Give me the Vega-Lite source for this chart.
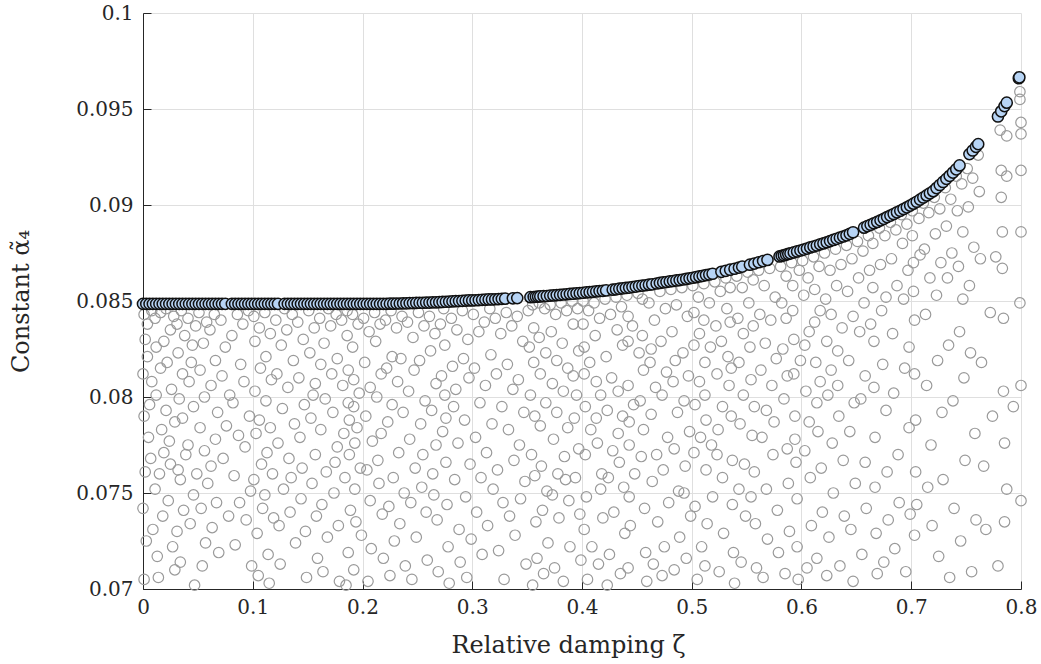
{
"$schema": "https://vega.github.io/schema/vega-lite/v6.json",
"width": 878, "height": 576,
"autosize": {"type": "none"},
"padding": {"left": 143, "top": 13, "right": 20, "bottom": 75},
"background": "white",
"config": {"view": {"stroke": null}, "font": "DejaVu Serif"},
"datasets": {
"samples": [
{"zeta":0.001,"alpha":0.0843},{"zeta":0,"alpha":0.0812},{"zeta":0.001,"alpha":0.079},{"zeta":0.002,"alpha":0.0761},{"zeta":0,"alpha":0.0742},{"zeta":0.001,"alpha":0.0705},{"zeta":0.004,"alpha":0.0838},{"zeta":0.004,"alpha":0.0821},{"zeta":0.005,"alpha":0.0779},{"zeta":0.003,"alpha":0.0725},{"zeta":0.008,"alpha":0.0845},{"zeta":0.008,"alpha":0.0808},{"zeta":0.007,"alpha":0.0768},{"zeta":0.009,"alpha":0.0731},{"zeta":0.006,"alpha":0.0796},{"zeta":0.002,"alpha":0.083},
{"zeta":0.011,"alpha":0.0841},{"zeta":0.012,"alpha":0.0826},{"zeta":0.012,"alpha":0.0801},{"zeta":0.011,"alpha":0.0752},{"zeta":0.013,"alpha":0.0717},{"zeta":0.016,"alpha":0.0844},{"zeta":0.016,"alpha":0.0815},{"zeta":0.017,"alpha":0.0783},{"zeta":0.015,"alpha":0.076},{"zeta":0.018,"alpha":0.0738},{"zeta":0.019,"alpha":0.0829},{"zeta":0.019,"alpha":0.0771},{"zeta":0.014,"alpha":0.0706},
{"zeta":0.021,"alpha":0.0846},{"zeta":0.022,"alpha":0.0818},{"zeta":0.021,"alpha":0.0793},{"zeta":0.023,"alpha":0.0746},{"zeta":0.025,"alpha":0.0835},{"zeta":0.026,"alpha":0.0804},{"zeta":0.025,"alpha":0.0765},{"zeta":0.027,"alpha":0.0722},{"zeta":0.028,"alpha":0.0842},{"zeta":0.029,"alpha":0.0787},{"zeta":0.024,"alpha":0.0777},{"zeta":0.029,"alpha":0.071},
{"zeta":0.031,"alpha":0.0838},{"zeta":0.032,"alpha":0.0823},{"zeta":0.033,"alpha":0.0799},{"zeta":0.032,"alpha":0.0762},{"zeta":0.034,"alpha":0.0757},{"zeta":0.031,"alpha":0.073},{"zeta":0.035,"alpha":0.0845},{"zeta":0.036,"alpha":0.0812},{"zeta":0.036,"alpha":0.0789},{"zeta":0.037,"alpha":0.0741},{"zeta":0.038,"alpha":0.0832},{"zeta":0.039,"alpha":0.077},{"zeta":0.034,"alpha":0.0714},
{"zeta":0.041,"alpha":0.0841},{"zeta":0.042,"alpha":0.0808},{"zeta":0.041,"alpha":0.0775},{"zeta":0.043,"alpha":0.0734},{"zeta":0.045,"alpha":0.0827},{"zeta":0.046,"alpha":0.0795},{"zeta":0.046,"alpha":0.0749},{"zeta":0.047,"alpha":0.0702},{"zeta":0.048,"alpha":0.0837},{"zeta":0.049,"alpha":0.076},{"zeta":0.044,"alpha":0.0818},
{"zeta":0.051,"alpha":0.0844},{"zeta":0.052,"alpha":0.0814},{"zeta":0.052,"alpha":0.0784},{"zeta":0.053,"alpha":0.0742},{"zeta":0.055,"alpha":0.0828},{"zeta":0.056,"alpha":0.08},{"zeta":0.056,"alpha":0.0772},{"zeta":0.057,"alpha":0.0724},{"zeta":0.058,"alpha":0.0839},{"zeta":0.059,"alpha":0.0755},{"zeta":0.054,"alpha":0.0712},
{"zeta":0.061,"alpha":0.0835},{"zeta":0.062,"alpha":0.0806},{"zeta":0.062,"alpha":0.0764},{"zeta":0.063,"alpha":0.0732},{"zeta":0.065,"alpha":0.0843},{"zeta":0.066,"alpha":0.0819},{"zeta":0.066,"alpha":0.0778},{"zeta":0.067,"alpha":0.0745},{"zeta":0.068,"alpha":0.0792},{"zeta":0.069,"alpha":0.0719},
{"zeta":0.071,"alpha":0.084},{"zeta":0.072,"alpha":0.0811},{"zeta":0.073,"alpha":0.0768},{"zeta":0.075,"alpha":0.0826},{"zeta":0.076,"alpha":0.0785},{"zeta":0.078,"alpha":0.0738},{"zeta":0.079,"alpha":0.0801},
{"zeta":0.081,"alpha":0.0832},{"zeta":0.082,"alpha":0.0797},{"zeta":0.083,"alpha":0.0759},{"zeta":0.084,"alpha":0.0723},{"zeta":0.086,"alpha":0.0843},{"zeta":0.087,"alpha":0.078},{"zeta":0.088,"alpha":0.0745},{"zeta":0.089,"alpha":0.0817},
{"zeta":0.091,"alpha":0.0838},{"zeta":0.092,"alpha":0.0808},{"zeta":0.093,"alpha":0.0774},{"zeta":0.094,"alpha":0.0736},{"zeta":0.096,"alpha":0.0845},{"zeta":0.097,"alpha":0.079},{"zeta":0.098,"alpha":0.0751},{"zeta":0.099,"alpha":0.0712},
{"zeta":0.101,"alpha":0.0842},{"zeta":0.102,"alpha":0.0829},{"zeta":0.102,"alpha":0.0803},{"zeta":0.103,"alpha":0.0781},{"zeta":0.101,"alpha":0.0757},{"zeta":0.104,"alpha":0.0729},{"zeta":0.106,"alpha":0.0836},{"zeta":0.107,"alpha":0.0815},{"zeta":0.106,"alpha":0.0788},{"zeta":0.108,"alpha":0.0765},{"zeta":0.109,"alpha":0.0742},{"zeta":0.105,"alpha":0.0707},
{"zeta":0.111,"alpha":0.0844},{"zeta":0.112,"alpha":0.0821},{"zeta":0.112,"alpha":0.0798},{"zeta":0.113,"alpha":0.0771},{"zeta":0.111,"alpha":0.0749},{"zeta":0.114,"alpha":0.0718},{"zeta":0.116,"alpha":0.0833},{"zeta":0.117,"alpha":0.0809},{"zeta":0.116,"alpha":0.0784},{"zeta":0.118,"alpha":0.076},{"zeta":0.119,"alpha":0.0737},{"zeta":0.115,"alpha":0.0703},
{"zeta":0.121,"alpha":0.084},{"zeta":0.122,"alpha":0.0812},{"zeta":0.123,"alpha":0.0776},{"zeta":0.124,"alpha":0.0733},{"zeta":0.126,"alpha":0.0827},{"zeta":0.127,"alpha":0.0794},{"zeta":0.128,"alpha":0.0752},{"zeta":0.129,"alpha":0.0846},{"zeta":0.125,"alpha":0.0713},
{"zeta":0.131,"alpha":0.0835},{"zeta":0.132,"alpha":0.0805},{"zeta":0.133,"alpha":0.0768},{"zeta":0.134,"alpha":0.074},{"zeta":0.136,"alpha":0.0843},{"zeta":0.137,"alpha":0.0819},{"zeta":0.138,"alpha":0.0786},{"zeta":0.139,"alpha":0.0724},{"zeta":0.135,"alpha":0.0758},
{"zeta":0.141,"alpha":0.0839},{"zeta":0.142,"alpha":0.081},{"zeta":0.143,"alpha":0.0779},{"zeta":0.144,"alpha":0.0747},{"zeta":0.146,"alpha":0.083},{"zeta":0.147,"alpha":0.0796},{"zeta":0.148,"alpha":0.073},{"zeta":0.149,"alpha":0.0706},{"zeta":0.145,"alpha":0.0763},
{"zeta":0.151,"alpha":0.0845},{"zeta":0.152,"alpha":0.0823},{"zeta":0.153,"alpha":0.0789},{"zeta":0.154,"alpha":0.0755},{"zeta":0.156,"alpha":0.0836},{"zeta":0.157,"alpha":0.0807},{"zeta":0.157,"alpha":0.077},{"zeta":0.158,"alpha":0.0738},{"zeta":0.159,"alpha":0.0716},{"zeta":0.155,"alpha":0.0801},
{"zeta":0.161,"alpha":0.0841},{"zeta":0.162,"alpha":0.0817},{"zeta":0.162,"alpha":0.0783},{"zeta":0.163,"alpha":0.0744},{"zeta":0.165,"alpha":0.0828},{"zeta":0.166,"alpha":0.0799},{"zeta":0.167,"alpha":0.0761},{"zeta":0.168,"alpha":0.0727},{"zeta":0.169,"alpha":0.0846},{"zeta":0.164,"alpha":0.0709},
{"zeta":0.171,"alpha":0.0837},{"zeta":0.172,"alpha":0.0812},{"zeta":0.173,"alpha":0.0792},{"zeta":0.174,"alpha":0.075},{"zeta":0.176,"alpha":0.0843},{"zeta":0.177,"alpha":0.082},{"zeta":0.177,"alpha":0.0774},{"zeta":0.178,"alpha":0.0733},{"zeta":0.179,"alpha":0.0704},{"zeta":0.175,"alpha":0.0766},
{"zeta":0.181,"alpha":0.084},{"zeta":0.182,"alpha":0.0806},{"zeta":0.183,"alpha":0.0781},{"zeta":0.184,"alpha":0.0758},{"zeta":0.186,"alpha":0.0845},{"zeta":0.186,"alpha":0.0832},{"zeta":0.187,"alpha":0.0814},{"zeta":0.187,"alpha":0.0797},{"zeta":0.188,"alpha":0.0788},{"zeta":0.188,"alpha":0.077},{"zeta":0.189,"alpha":0.0741},{"zeta":0.187,"alpha":0.0719},{"zeta":0.185,"alpha":0.0702},
{"zeta":0.191,"alpha":0.0843},{"zeta":0.191,"alpha":0.0826},{"zeta":0.192,"alpha":0.0809},{"zeta":0.192,"alpha":0.0795},{"zeta":0.193,"alpha":0.0776},{"zeta":0.193,"alpha":0.0752},{"zeta":0.194,"alpha":0.0735},{"zeta":0.192,"alpha":0.071},{"zeta":0.196,"alpha":0.0838},{"zeta":0.197,"alpha":0.0802},{"zeta":0.198,"alpha":0.0763},{"zeta":0.199,"alpha":0.0728},{"zeta":0.195,"alpha":0.0784},
{"zeta":0.201,"alpha":0.0841},{"zeta":0.202,"alpha":0.0818},{"zeta":0.203,"alpha":0.079},{"zeta":0.204,"alpha":0.0762},{"zeta":0.206,"alpha":0.0834},{"zeta":0.207,"alpha":0.0805},{"zeta":0.207,"alpha":0.0746},{"zeta":0.208,"alpha":0.0721},{"zeta":0.209,"alpha":0.0777},{"zeta":0.205,"alpha":0.0704},
{"zeta":0.211,"alpha":0.0844},{"zeta":0.212,"alpha":0.0829},{"zeta":0.213,"alpha":0.08},{"zeta":0.214,"alpha":0.0767},{"zeta":0.216,"alpha":0.0838},{"zeta":0.217,"alpha":0.0812},{"zeta":0.217,"alpha":0.0781},{"zeta":0.218,"alpha":0.0739},{"zeta":0.219,"alpha":0.0716},{"zeta":0.215,"alpha":0.0755},
{"zeta":0.221,"alpha":0.084},{"zeta":0.222,"alpha":0.0815},{"zeta":0.223,"alpha":0.0787},{"zeta":0.224,"alpha":0.0743},{"zeta":0.226,"alpha":0.0845},{"zeta":0.227,"alpha":0.0821},{"zeta":0.227,"alpha":0.0796},{"zeta":0.228,"alpha":0.0758},{"zeta":0.229,"alpha":0.0725},{"zeta":0.225,"alpha":0.0707},
{"zeta":0.231,"alpha":0.0836},{"zeta":0.232,"alpha":0.0808},{"zeta":0.233,"alpha":0.0771},{"zeta":0.234,"alpha":0.0734},{"zeta":0.236,"alpha":0.0842},{"zeta":0.237,"alpha":0.0792},{"zeta":0.238,"alpha":0.075},{"zeta":0.239,"alpha":0.0712},{"zeta":0.235,"alpha":0.082},
{"zeta":0.241,"alpha":0.0839},{"zeta":0.242,"alpha":0.0803},{"zeta":0.243,"alpha":0.0778},{"zeta":0.244,"alpha":0.0745},{"zeta":0.246,"alpha":0.0831},{"zeta":0.247,"alpha":0.0814},{"zeta":0.248,"alpha":0.0763},{"zeta":0.249,"alpha":0.0727},{"zeta":0.245,"alpha":0.0705},
{"zeta":0.251,"alpha":0.0844},{"zeta":0.252,"alpha":0.0819},{"zeta":0.253,"alpha":0.0786},{"zeta":0.254,"alpha":0.0753},{"zeta":0.256,"alpha":0.0837},{"zeta":0.257,"alpha":0.0798},{"zeta":0.258,"alpha":0.074},{"zeta":0.259,"alpha":0.0715},{"zeta":0.255,"alpha":0.077},
{"zeta":0.261,"alpha":0.0842},{"zeta":0.262,"alpha":0.0824},{"zeta":0.263,"alpha":0.0793},{"zeta":0.264,"alpha":0.076},{"zeta":0.266,"alpha":0.0833},{"zeta":0.267,"alpha":0.0807},{"zeta":0.267,"alpha":0.0775},{"zeta":0.268,"alpha":0.0736},{"zeta":0.269,"alpha":0.0709},{"zeta":0.265,"alpha":0.0749},
{"zeta":0.271,"alpha":0.0838},{"zeta":0.272,"alpha":0.0811},{"zeta":0.273,"alpha":0.0782},{"zeta":0.274,"alpha":0.0846},{"zeta":0.275,"alpha":0.0827},{"zeta":0.275,"alpha":0.0801},{"zeta":0.276,"alpha":0.0789},{"zeta":0.276,"alpha":0.0766},{"zeta":0.277,"alpha":0.0744},{"zeta":0.278,"alpha":0.0722},{"zeta":0.279,"alpha":0.0703},
{"zeta":0.281,"alpha":0.0841},{"zeta":0.282,"alpha":0.0816},{"zeta":0.283,"alpha":0.0795},{"zeta":0.284,"alpha":0.0757},{"zeta":0.286,"alpha":0.0835},{"zeta":0.287,"alpha":0.0776},{"zeta":0.288,"alpha":0.0731},{"zeta":0.289,"alpha":0.0714},{"zeta":0.285,"alpha":0.0804},
{"zeta":0.291,"alpha":0.0845},{"zeta":0.292,"alpha":0.082},{"zeta":0.293,"alpha":0.0788},{"zeta":0.294,"alpha":0.0748},{"zeta":0.296,"alpha":0.083},{"zeta":0.297,"alpha":0.081},{"zeta":0.298,"alpha":0.0765},{"zeta":0.299,"alpha":0.0726},{"zeta":0.295,"alpha":0.0706},
{"zeta":0.301,"alpha":0.0843},{"zeta":0.302,"alpha":0.0815},{"zeta":0.303,"alpha":0.0779},{"zeta":0.304,"alpha":0.074},{"zeta":0.306,"alpha":0.0834},{"zeta":0.307,"alpha":0.0797},{"zeta":0.308,"alpha":0.0758},{"zeta":0.309,"alpha":0.0718},
{"zeta":0.311,"alpha":0.0839},{"zeta":0.312,"alpha":0.0806},{"zeta":0.313,"alpha":0.0771},{"zeta":0.314,"alpha":0.0733},{"zeta":0.316,"alpha":0.0846},{"zeta":0.317,"alpha":0.0822},{"zeta":0.318,"alpha":0.0786},{"zeta":0.319,"alpha":0.0752},
{"zeta":0.321,"alpha":0.0841},{"zeta":0.322,"alpha":0.0812},{"zeta":0.323,"alpha":0.0762},{"zeta":0.324,"alpha":0.072},{"zeta":0.326,"alpha":0.0833},{"zeta":0.327,"alpha":0.0795},{"zeta":0.328,"alpha":0.0745},{"zeta":0.329,"alpha":0.0705},
{"zeta":0.331,"alpha":0.0844},{"zeta":0.332,"alpha":0.0817},{"zeta":0.333,"alpha":0.0783},{"zeta":0.334,"alpha":0.0738},{"zeta":0.336,"alpha":0.0837},{"zeta":0.337,"alpha":0.0804},{"zeta":0.338,"alpha":0.0767},{"zeta":0.339,"alpha":0.0728},
{"zeta":0.341,"alpha":0.0842},{"zeta":0.342,"alpha":0.0809},{"zeta":0.343,"alpha":0.0775},{"zeta":0.344,"alpha":0.0747},{"zeta":0.346,"alpha":0.0829},{"zeta":0.347,"alpha":0.0792},{"zeta":0.348,"alpha":0.0756},{"zeta":0.349,"alpha":0.0713},
{"zeta":0.351,"alpha":0.0845},{"zeta":0.352,"alpha":0.0826},{"zeta":0.353,"alpha":0.0801},{"zeta":0.354,"alpha":0.077},{"zeta":0.355,"alpha":0.0848},{"zeta":0.356,"alpha":0.0836},{"zeta":0.356,"alpha":0.0818},{"zeta":0.357,"alpha":0.079},{"zeta":0.357,"alpha":0.0759},{"zeta":0.358,"alpha":0.0735},{"zeta":0.359,"alpha":0.0716},{"zeta":0.355,"alpha":0.0702},
{"zeta":0.361,"alpha":0.0849},{"zeta":0.361,"alpha":0.0831},{"zeta":0.362,"alpha":0.0812},{"zeta":0.362,"alpha":0.0785},{"zeta":0.363,"alpha":0.0764},{"zeta":0.364,"alpha":0.0741},{"zeta":0.366,"alpha":0.0846},{"zeta":0.367,"alpha":0.0823},{"zeta":0.367,"alpha":0.0797},{"zeta":0.368,"alpha":0.0751},{"zeta":0.369,"alpha":0.0724},{"zeta":0.365,"alpha":0.0708},
{"zeta":0.371,"alpha":0.0848},{"zeta":0.372,"alpha":0.0834},{"zeta":0.373,"alpha":0.0807},{"zeta":0.374,"alpha":0.0778},{"zeta":0.376,"alpha":0.0843},{"zeta":0.377,"alpha":0.0819},{"zeta":0.377,"alpha":0.0792},{"zeta":0.378,"alpha":0.076},{"zeta":0.379,"alpha":0.0737},{"zeta":0.375,"alpha":0.0711},{"zeta":0.373,"alpha":0.0749},
{"zeta":0.381,"alpha":0.0849},{"zeta":0.382,"alpha":0.0828},{"zeta":0.383,"alpha":0.0803},{"zeta":0.384,"alpha":0.0769},{"zeta":0.386,"alpha":0.0845},{"zeta":0.387,"alpha":0.0815},{"zeta":0.387,"alpha":0.0784},{"zeta":0.388,"alpha":0.0746},{"zeta":0.389,"alpha":0.0722},{"zeta":0.385,"alpha":0.0757},{"zeta":0.383,"alpha":0.0704},
{"zeta":0.391,"alpha":0.085},{"zeta":0.392,"alpha":0.0838},{"zeta":0.392,"alpha":0.0811},{"zeta":0.393,"alpha":0.0789},{"zeta":0.394,"alpha":0.0758},{"zeta":0.396,"alpha":0.0846},{"zeta":0.397,"alpha":0.0824},{"zeta":0.397,"alpha":0.0773},{"zeta":0.398,"alpha":0.0739},{"zeta":0.399,"alpha":0.0715},{"zeta":0.395,"alpha":0.0801},
{"zeta":0.401,"alpha":0.085},{"zeta":0.401,"alpha":0.0838},{"zeta":0.402,"alpha":0.0826},{"zeta":0.402,"alpha":0.0812},{"zeta":0.403,"alpha":0.0795},{"zeta":0.403,"alpha":0.077},{"zeta":0.404,"alpha":0.0748},{"zeta":0.402,"alpha":0.0731},{"zeta":0.406,"alpha":0.0845},{"zeta":0.407,"alpha":0.0818},{"zeta":0.408,"alpha":0.0783},{"zeta":0.409,"alpha":0.0722},{"zeta":0.405,"alpha":0.0705},
{"zeta":0.411,"alpha":0.0849},{"zeta":0.412,"alpha":0.0832},{"zeta":0.413,"alpha":0.0808},{"zeta":0.414,"alpha":0.0776},{"zeta":0.416,"alpha":0.0841},{"zeta":0.417,"alpha":0.0801},{"zeta":0.418,"alpha":0.076},{"zeta":0.419,"alpha":0.0737},{"zeta":0.415,"alpha":0.0713},{"zeta":0.413,"alpha":0.0789},{"zeta":0.417,"alpha":0.0752},
{"zeta":0.421,"alpha":0.0851},{"zeta":0.422,"alpha":0.0821},{"zeta":0.423,"alpha":0.0793},{"zeta":0.424,"alpha":0.0758},{"zeta":0.426,"alpha":0.0843},{"zeta":0.427,"alpha":0.081},{"zeta":0.428,"alpha":0.0772},{"zeta":0.429,"alpha":0.074},{"zeta":0.425,"alpha":0.0718},{"zeta":0.423,"alpha":0.0702},
{"zeta":0.431,"alpha":0.0852},{"zeta":0.432,"alpha":0.0835},{"zeta":0.433,"alpha":0.0803},{"zeta":0.434,"alpha":0.0766},{"zeta":0.436,"alpha":0.0847},{"zeta":0.437,"alpha":0.0827},{"zeta":0.437,"alpha":0.079},{"zeta":0.438,"alpha":0.0753},{"zeta":0.439,"alpha":0.0729},{"zeta":0.435,"alpha":0.0708},{"zeta":0.433,"alpha":0.0781},
{"zeta":0.441,"alpha":0.0853},{"zeta":0.442,"alpha":0.0842},{"zeta":0.442,"alpha":0.0829},{"zeta":0.442,"alpha":0.0806},{"zeta":0.443,"alpha":0.0787},{"zeta":0.443,"alpha":0.0775},{"zeta":0.443,"alpha":0.0748},{"zeta":0.444,"alpha":0.0733},{"zeta":0.442,"alpha":0.0711},{"zeta":0.446,"alpha":0.0837},{"zeta":0.447,"alpha":0.0796},{"zeta":0.448,"alpha":0.076},
{"zeta":0.451,"alpha":0.0854},{"zeta":0.452,"alpha":0.0823},{"zeta":0.453,"alpha":0.0798},{"zeta":0.454,"alpha":0.0769},{"zeta":0.455,"alpha":0.0851},{"zeta":0.455,"alpha":0.0832},{"zeta":0.456,"alpha":0.0814},{"zeta":0.456,"alpha":0.0783},{"zeta":0.457,"alpha":0.0742},{"zeta":0.458,"alpha":0.0719},{"zeta":0.459,"alpha":0.0704},
{"zeta":0.461,"alpha":0.0849},{"zeta":0.462,"alpha":0.0818},{"zeta":0.463,"alpha":0.0791},{"zeta":0.464,"alpha":0.0756},{"zeta":0.466,"alpha":0.084},{"zeta":0.467,"alpha":0.0805},{"zeta":0.468,"alpha":0.077},{"zeta":0.469,"alpha":0.0735},{"zeta":0.465,"alpha":0.0713},{"zeta":0.463,"alpha":0.0825},
{"zeta":0.471,"alpha":0.0855},{"zeta":0.472,"alpha":0.0829},{"zeta":0.473,"alpha":0.0801},{"zeta":0.474,"alpha":0.0762},{"zeta":0.476,"alpha":0.0846},{"zeta":0.477,"alpha":0.0813},{"zeta":0.478,"alpha":0.0779},{"zeta":0.479,"alpha":0.0745},{"zeta":0.475,"alpha":0.0722},{"zeta":0.473,"alpha":0.0707},
{"zeta":0.481,"alpha":0.0856},{"zeta":0.482,"alpha":0.0834},{"zeta":0.483,"alpha":0.0808},{"zeta":0.484,"alpha":0.0773},{"zeta":0.486,"alpha":0.0848},{"zeta":0.487,"alpha":0.0792},{"zeta":0.488,"alpha":0.0751},{"zeta":0.489,"alpha":0.0727},{"zeta":0.485,"alpha":0.0819},{"zeta":0.484,"alpha":0.071},
{"zeta":0.491,"alpha":0.0857},{"zeta":0.492,"alpha":0.0823},{"zeta":0.493,"alpha":0.0798},{"zeta":0.494,"alpha":0.0764},{"zeta":0.496,"alpha":0.0842},{"zeta":0.497,"alpha":0.0811},{"zeta":0.498,"alpha":0.0782},{"zeta":0.499,"alpha":0.0738},{"zeta":0.495,"alpha":0.0716},{"zeta":0.493,"alpha":0.075},
{"zeta":0.501,"alpha":0.0858},{"zeta":0.502,"alpha":0.0844},{"zeta":0.502,"alpha":0.0827},{"zeta":0.503,"alpha":0.0796},{"zeta":0.502,"alpha":0.0771},{"zeta":0.503,"alpha":0.0743},{"zeta":0.506,"alpha":0.0852},{"zeta":0.507,"alpha":0.0833},{"zeta":0.507,"alpha":0.0808},{"zeta":0.508,"alpha":0.0779},{"zeta":0.509,"alpha":0.0722},{"zeta":0.505,"alpha":0.0705},
{"zeta":0.511,"alpha":0.0859},{"zeta":0.511,"alpha":0.084},{"zeta":0.512,"alpha":0.0818},{"zeta":0.512,"alpha":0.0801},{"zeta":0.513,"alpha":0.0788},{"zeta":0.513,"alpha":0.0762},{"zeta":0.514,"alpha":0.0734},{"zeta":0.512,"alpha":0.0712},{"zeta":0.516,"alpha":0.0849},{"zeta":0.517,"alpha":0.0826},{"zeta":0.518,"alpha":0.0775},{"zeta":0.519,"alpha":0.0748},
{"zeta":0.521,"alpha":0.086},{"zeta":0.522,"alpha":0.0837},{"zeta":0.523,"alpha":0.0812},{"zeta":0.524,"alpha":0.0783},{"zeta":0.526,"alpha":0.0855},{"zeta":0.527,"alpha":0.0829},{"zeta":0.528,"alpha":0.0795},{"zeta":0.528,"alpha":0.0758},{"zeta":0.529,"alpha":0.0729},{"zeta":0.525,"alpha":0.0709},{"zeta":0.523,"alpha":0.077},
{"zeta":0.531,"alpha":0.0862},{"zeta":0.532,"alpha":0.0846},{"zeta":0.533,"alpha":0.0821},{"zeta":0.534,"alpha":0.0806},{"zeta":0.535,"alpha":0.0857},{"zeta":0.535,"alpha":0.0839},{"zeta":0.536,"alpha":0.0815},{"zeta":0.536,"alpha":0.079},{"zeta":0.537,"alpha":0.0767},{"zeta":0.537,"alpha":0.0744},{"zeta":0.538,"alpha":0.0719},{"zeta":0.539,"alpha":0.0703},
{"zeta":0.541,"alpha":0.0863},{"zeta":0.542,"alpha":0.0841},{"zeta":0.543,"alpha":0.0818},{"zeta":0.544,"alpha":0.0786},{"zeta":0.546,"alpha":0.0857},{"zeta":0.547,"alpha":0.0833},{"zeta":0.547,"alpha":0.0801},{"zeta":0.548,"alpha":0.0765},{"zeta":0.549,"alpha":0.0738},{"zeta":0.545,"alpha":0.0714},{"zeta":0.543,"alpha":0.0752},
{"zeta":0.551,"alpha":0.0865},{"zeta":0.552,"alpha":0.0849},{"zeta":0.553,"alpha":0.0826},{"zeta":0.554,"alpha":0.0809},{"zeta":0.555,"alpha":0.078},{"zeta":0.556,"alpha":0.0861},{"zeta":0.556,"alpha":0.0837},{"zeta":0.557,"alpha":0.0795},{"zeta":0.557,"alpha":0.0761},{"zeta":0.558,"alpha":0.0734},{"zeta":0.559,"alpha":0.0711},{"zeta":0.554,"alpha":0.0748},
{"zeta":0.561,"alpha":0.0866},{"zeta":0.562,"alpha":0.0843},{"zeta":0.563,"alpha":0.0814},{"zeta":0.564,"alpha":0.0779},{"zeta":0.566,"alpha":0.0858},{"zeta":0.567,"alpha":0.0828},{"zeta":0.568,"alpha":0.0793},{"zeta":0.568,"alpha":0.0752},{"zeta":0.569,"alpha":0.0726},{"zeta":0.565,"alpha":0.0706},
{"zeta":0.571,"alpha":0.0867},{"zeta":0.572,"alpha":0.084},{"zeta":0.573,"alpha":0.0806},{"zeta":0.574,"alpha":0.077},{"zeta":0.576,"alpha":0.0852},{"zeta":0.577,"alpha":0.082},{"zeta":0.578,"alpha":0.0741},{"zeta":0.579,"alpha":0.0719},{"zeta":0.575,"alpha":0.0787},
{"zeta":0.581,"alpha":0.0868},{"zeta":0.582,"alpha":0.0849},{"zeta":0.583,"alpha":0.0825},{"zeta":0.584,"alpha":0.0799},{"zeta":0.586,"alpha":0.0863},{"zeta":0.586,"alpha":0.0841},{"zeta":0.587,"alpha":0.0811},{"zeta":0.587,"alpha":0.0773},{"zeta":0.588,"alpha":0.0755},{"zeta":0.589,"alpha":0.073},{"zeta":0.585,"alpha":0.0708},
{"zeta":0.591,"alpha":0.087},{"zeta":0.592,"alpha":0.0858},{"zeta":0.592,"alpha":0.0845},{"zeta":0.593,"alpha":0.083},{"zeta":0.593,"alpha":0.0812},{"zeta":0.594,"alpha":0.079},{"zeta":0.594,"alpha":0.0778},{"zeta":0.595,"alpha":0.0766},{"zeta":0.596,"alpha":0.0747},{"zeta":0.596,"alpha":0.0722},{"zeta":0.597,"alpha":0.0705},{"zeta":0.598,"alpha":0.0866},{"zeta":0.599,"alpha":0.0819},
{"zeta":0.601,"alpha":0.0871},{"zeta":0.602,"alpha":0.0853},{"zeta":0.603,"alpha":0.0827},{"zeta":0.604,"alpha":0.0803},{"zeta":0.606,"alpha":0.0862},{"zeta":0.607,"alpha":0.0834},{"zeta":0.607,"alpha":0.0787},{"zeta":0.608,"alpha":0.0758},{"zeta":0.609,"alpha":0.0733},{"zeta":0.605,"alpha":0.0711},{"zeta":0.603,"alpha":0.0772},
{"zeta":0.611,"alpha":0.0873},{"zeta":0.612,"alpha":0.0856},{"zeta":0.612,"alpha":0.0839},{"zeta":0.613,"alpha":0.0818},{"zeta":0.614,"alpha":0.0797},{"zeta":0.615,"alpha":0.0782},{"zeta":0.616,"alpha":0.0868},{"zeta":0.617,"alpha":0.0845},{"zeta":0.617,"alpha":0.0808},{"zeta":0.618,"alpha":0.0763},{"zeta":0.619,"alpha":0.074},{"zeta":0.614,"alpha":0.0716},
{"zeta":0.621,"alpha":0.0875},{"zeta":0.622,"alpha":0.0851},{"zeta":0.623,"alpha":0.0829},{"zeta":0.624,"alpha":0.0801},{"zeta":0.626,"alpha":0.0866},{"zeta":0.627,"alpha":0.0843},{"zeta":0.627,"alpha":0.0814},{"zeta":0.628,"alpha":0.0776},{"zeta":0.629,"alpha":0.075},{"zeta":0.625,"alpha":0.0727},{"zeta":0.623,"alpha":0.0707},
{"zeta":0.631,"alpha":0.0877},{"zeta":0.632,"alpha":0.0858},{"zeta":0.633,"alpha":0.0824},{"zeta":0.634,"alpha":0.079},{"zeta":0.636,"alpha":0.0869},{"zeta":0.637,"alpha":0.0836},{"zeta":0.638,"alpha":0.0767},{"zeta":0.639,"alpha":0.0738},{"zeta":0.635,"alpha":0.0712},{"zeta":0.633,"alpha":0.0806},
{"zeta":0.641,"alpha":0.0879},{"zeta":0.642,"alpha":0.0855},{"zeta":0.643,"alpha":0.0819},{"zeta":0.644,"alpha":0.0782},{"zeta":0.646,"alpha":0.0872},{"zeta":0.647,"alpha":0.0842},{"zeta":0.648,"alpha":0.0797},{"zeta":0.649,"alpha":0.0755},{"zeta":0.645,"alpha":0.0731},{"zeta":0.647,"alpha":0.0704},
{"zeta":0.651,"alpha":0.0881},{"zeta":0.652,"alpha":0.0862},{"zeta":0.653,"alpha":0.0834},{"zeta":0.654,"alpha":0.0799},{"zeta":0.656,"alpha":0.0876},{"zeta":0.657,"alpha":0.0849},{"zeta":0.658,"alpha":0.0811},{"zeta":0.658,"alpha":0.0766},{"zeta":0.659,"alpha":0.0742},{"zeta":0.655,"alpha":0.0718},
{"zeta":0.661,"alpha":0.0884},{"zeta":0.662,"alpha":0.0866},{"zeta":0.663,"alpha":0.0838},{"zeta":0.665,"alpha":0.088},{"zeta":0.665,"alpha":0.0857},{"zeta":0.666,"alpha":0.0829},{"zeta":0.666,"alpha":0.0805},{"zeta":0.667,"alpha":0.0779},{"zeta":0.667,"alpha":0.0753},{"zeta":0.668,"alpha":0.0729},{"zeta":0.669,"alpha":0.0708},
{"zeta":0.671,"alpha":0.0888},{"zeta":0.672,"alpha":0.0869},{"zeta":0.673,"alpha":0.0845},{"zeta":0.674,"alpha":0.0817},{"zeta":0.676,"alpha":0.0884},{"zeta":0.677,"alpha":0.0852},{"zeta":0.677,"alpha":0.0793},{"zeta":0.678,"alpha":0.0761},{"zeta":0.679,"alpha":0.0736},{"zeta":0.675,"alpha":0.0714},
{"zeta":0.681,"alpha":0.0891},{"zeta":0.682,"alpha":0.0872},{"zeta":0.683,"alpha":0.0833},{"zeta":0.684,"alpha":0.0802},{"zeta":0.686,"alpha":0.0887},{"zeta":0.687,"alpha":0.0858},{"zeta":0.688,"alpha":0.077},{"zeta":0.689,"alpha":0.0745},{"zeta":0.685,"alpha":0.0721},
{"zeta":0.691,"alpha":0.0895},{"zeta":0.692,"alpha":0.088},{"zeta":0.693,"alpha":0.0851},{"zeta":0.694,"alpha":0.0815},{"zeta":0.696,"alpha":0.089},{"zeta":0.697,"alpha":0.0866},{"zeta":0.698,"alpha":0.0826},{"zeta":0.698,"alpha":0.0784},{"zeta":0.699,"alpha":0.0739},{"zeta":0.695,"alpha":0.0709},
{"zeta":0.701,"alpha":0.0897},{"zeta":0.701,"alpha":0.0884},{"zeta":0.702,"alpha":0.087},{"zeta":0.702,"alpha":0.0855},{"zeta":0.703,"alpha":0.084},{"zeta":0.703,"alpha":0.0812},{"zeta":0.704,"alpha":0.0788},{"zeta":0.704,"alpha":0.0761},{"zeta":0.705,"alpha":0.0744},{"zeta":0.703,"alpha":0.0728},{"zeta":0.707,"alpha":0.0893},{"zeta":0.708,"alpha":0.0874},
{"zeta":0.711,"alpha":0.0901},{"zeta":0.712,"alpha":0.0877},{"zeta":0.713,"alpha":0.0843},{"zeta":0.714,"alpha":0.0806},{"zeta":0.716,"alpha":0.0896},{"zeta":0.717,"alpha":0.0862},{"zeta":0.718,"alpha":0.0775},{"zeta":0.719,"alpha":0.0733},{"zeta":0.715,"alpha":0.0753},
{"zeta":0.721,"alpha":0.0904},{"zeta":0.722,"alpha":0.0885},{"zeta":0.723,"alpha":0.0853},{"zeta":0.724,"alpha":0.0819},{"zeta":0.726,"alpha":0.0898},{"zeta":0.727,"alpha":0.087},{"zeta":0.728,"alpha":0.0792},{"zeta":0.729,"alpha":0.0757},{"zeta":0.725,"alpha":0.0717},
{"zeta":0.731,"alpha":0.0909},{"zeta":0.732,"alpha":0.0889},{"zeta":0.733,"alpha":0.0862},{"zeta":0.734,"alpha":0.0827},{"zeta":0.736,"alpha":0.0903},{"zeta":0.737,"alpha":0.0875},{"zeta":0.738,"alpha":0.0798},{"zeta":0.739,"alpha":0.0742},{"zeta":0.735,"alpha":0.0706},
{"zeta":0.741,"alpha":0.0915},{"zeta":0.742,"alpha":0.0897},{"zeta":0.743,"alpha":0.0868},{"zeta":0.744,"alpha":0.0834},{"zeta":0.746,"alpha":0.0911},{"zeta":0.747,"alpha":0.0886},{"zeta":0.747,"alpha":0.0851},{"zeta":0.748,"alpha":0.081},{"zeta":0.749,"alpha":0.0767},{"zeta":0.745,"alpha":0.0725},
{"zeta":0.751,"alpha":0.0919},{"zeta":0.752,"alpha":0.0899},{"zeta":0.753,"alpha":0.0858},{"zeta":0.754,"alpha":0.0823},{"zeta":0.756,"alpha":0.0914},{"zeta":0.757,"alpha":0.0878},{"zeta":0.758,"alpha":0.0781},{"zeta":0.759,"alpha":0.0736},{"zeta":0.755,"alpha":0.0709},
{"zeta":0.761,"alpha":0.0926},{"zeta":0.762,"alpha":0.0907},{"zeta":0.763,"alpha":0.0872},{"zeta":0.764,"alpha":0.0818},{"zeta":0.766,"alpha":0.0764},{"zeta":0.768,"alpha":0.0731},
{"zeta":0.772,"alpha":0.0844},{"zeta":0.774,"alpha":0.079},{"zeta":0.777,"alpha":0.0873},{"zeta":0.779,"alpha":0.0712},
{"zeta":0.781,"alpha":0.0939},{"zeta":0.782,"alpha":0.0918},{"zeta":0.782,"alpha":0.0904},{"zeta":0.783,"alpha":0.0886},{"zeta":0.783,"alpha":0.0867},{"zeta":0.784,"alpha":0.0841},{"zeta":0.784,"alpha":0.0803},{"zeta":0.785,"alpha":0.0776},{"zeta":0.785,"alpha":0.0735},{"zeta":0.787,"alpha":0.0936},{"zeta":0.787,"alpha":0.0915},{"zeta":0.787,"alpha":0.0752},
{"zeta":0.799,"alpha":0.0959},{"zeta":0.799,"alpha":0.0955},{"zeta":0.8,"alpha":0.0943},{"zeta":0.8,"alpha":0.0937},{"zeta":0.8,"alpha":0.0918},{"zeta":0.8,"alpha":0.0886},{"zeta":0.799,"alpha":0.0849},{"zeta":0.8,"alpha":0.0806},{"zeta":0.8,"alpha":0.0746},{"zeta":0.793,"alpha":0.0795}
],
"optimal": [
{"zeta":0,"alpha":0.08485},{"zeta":0.003,"alpha":0.08485},{"zeta":0.006,"alpha":0.08485},{"zeta":0.009,"alpha":0.08485},{"zeta":0.012,"alpha":0.08485},{"zeta":0.015,"alpha":0.08485},{"zeta":0.018,"alpha":0.08485},{"zeta":0.021,"alpha":0.08485},{"zeta":0.024,"alpha":0.08485},{"zeta":0.027,"alpha":0.08485},{"zeta":0.03,"alpha":0.08485},{"zeta":0.033,"alpha":0.08485},{"zeta":0.036,"alpha":0.08485},{"zeta":0.039,"alpha":0.08485},{"zeta":0.042,"alpha":0.08485},{"zeta":0.045,"alpha":0.08485},{"zeta":0.048,"alpha":0.08485},{"zeta":0.051,"alpha":0.08485},{"zeta":0.054,"alpha":0.08485},{"zeta":0.057,"alpha":0.08485},{"zeta":0.06,"alpha":0.08485},{"zeta":0.063,"alpha":0.08485},{"zeta":0.066,"alpha":0.08485},{"zeta":0.069,"alpha":0.08485},{"zeta":0.072,"alpha":0.08485},{"zeta":0.075,"alpha":0.08485},
{"zeta":0.081,"alpha":0.08485},{"zeta":0.084,"alpha":0.08485},{"zeta":0.087,"alpha":0.08485},{"zeta":0.09,"alpha":0.08485},{"zeta":0.093,"alpha":0.08485},{"zeta":0.096,"alpha":0.08485},{"zeta":0.099,"alpha":0.08485},{"zeta":0.102,"alpha":0.08485},{"zeta":0.105,"alpha":0.08485},{"zeta":0.108,"alpha":0.08485},{"zeta":0.111,"alpha":0.08485},{"zeta":0.114,"alpha":0.08485},{"zeta":0.117,"alpha":0.08485},{"zeta":0.12,"alpha":0.08485},{"zeta":0.123,"alpha":0.08485},
{"zeta":0.129,"alpha":0.08485},{"zeta":0.132,"alpha":0.08485},{"zeta":0.135,"alpha":0.08485},{"zeta":0.138,"alpha":0.08485},{"zeta":0.141,"alpha":0.08485},{"zeta":0.144,"alpha":0.08485},{"zeta":0.147,"alpha":0.08485},{"zeta":0.15,"alpha":0.08485},{"zeta":0.153,"alpha":0.08485},{"zeta":0.156,"alpha":0.08485},{"zeta":0.159,"alpha":0.08485},{"zeta":0.162,"alpha":0.08485},{"zeta":0.165,"alpha":0.08485},{"zeta":0.168,"alpha":0.08485},{"zeta":0.171,"alpha":0.08485},{"zeta":0.174,"alpha":0.08485},{"zeta":0.177,"alpha":0.08485},{"zeta":0.18,"alpha":0.08485},{"zeta":0.183,"alpha":0.08485},{"zeta":0.186,"alpha":0.08485},{"zeta":0.189,"alpha":0.08485},{"zeta":0.192,"alpha":0.08485},{"zeta":0.195,"alpha":0.08485},{"zeta":0.198,"alpha":0.08485},{"zeta":0.201,"alpha":0.08485},{"zeta":0.204,"alpha":0.08485},{"zeta":0.207,"alpha":0.08485},{"zeta":0.21,"alpha":0.08485},{"zeta":0.213,"alpha":0.08485},{"zeta":0.216,"alpha":0.08485},{"zeta":0.219,"alpha":0.08485},
{"zeta":0.222,"alpha":0.08485},{"zeta":0.225,"alpha":0.08486},{"zeta":0.228,"alpha":0.08486},{"zeta":0.231,"alpha":0.08487},{"zeta":0.234,"alpha":0.08487},{"zeta":0.237,"alpha":0.08488},{"zeta":0.24,"alpha":0.08488},{"zeta":0.243,"alpha":0.08489},{"zeta":0.246,"alpha":0.08489},{"zeta":0.249,"alpha":0.0849},{"zeta":0.252,"alpha":0.08491},{"zeta":0.255,"alpha":0.08491},{"zeta":0.258,"alpha":0.08492},{"zeta":0.261,"alpha":0.08492},{"zeta":0.264,"alpha":0.08493},{"zeta":0.267,"alpha":0.08493},{"zeta":0.27,"alpha":0.08494},{"zeta":0.273,"alpha":0.08495},{"zeta":0.276,"alpha":0.08496},{"zeta":0.279,"alpha":0.08497},{"zeta":0.282,"alpha":0.08498},{"zeta":0.285,"alpha":0.08499},{"zeta":0.288,"alpha":0.085},{"zeta":0.291,"alpha":0.08501},{"zeta":0.294,"alpha":0.08502},{"zeta":0.297,"alpha":0.08503},{"zeta":0.3,"alpha":0.08503},{"zeta":0.303,"alpha":0.08504},{"zeta":0.306,"alpha":0.08505},{"zeta":0.309,"alpha":0.08506},{"zeta":0.312,"alpha":0.08507},{"zeta":0.315,"alpha":0.08508},{"zeta":0.318,"alpha":0.08508},{"zeta":0.321,"alpha":0.08509},{"zeta":0.324,"alpha":0.0851},{"zeta":0.327,"alpha":0.08511},{"zeta":0.33,"alpha":0.08512},
{"zeta":0.337,"alpha":0.08514},{"zeta":0.341,"alpha":0.08515},
{"zeta":0.353,"alpha":0.0852},{"zeta":0.356,"alpha":0.08521},{"zeta":0.358,"alpha":0.08522},{"zeta":0.36,"alpha":0.08523},{"zeta":0.362,"alpha":0.08524},{"zeta":0.365,"alpha":0.08525},{"zeta":0.368,"alpha":0.08526},{"zeta":0.371,"alpha":0.08528},{"zeta":0.374,"alpha":0.08529},{"zeta":0.377,"alpha":0.08531},{"zeta":0.38,"alpha":0.08532},{"zeta":0.383,"alpha":0.08534},{"zeta":0.386,"alpha":0.08535},{"zeta":0.389,"alpha":0.08537},{"zeta":0.392,"alpha":0.08538},{"zeta":0.395,"alpha":0.0854},{"zeta":0.398,"alpha":0.08541},{"zeta":0.401,"alpha":0.08543},{"zeta":0.404,"alpha":0.08545},{"zeta":0.407,"alpha":0.08546},{"zeta":0.41,"alpha":0.08548},{"zeta":0.413,"alpha":0.0855},{"zeta":0.416,"alpha":0.08552},{"zeta":0.419,"alpha":0.08553},{"zeta":0.422,"alpha":0.08555},
{"zeta":0.428,"alpha":0.08559},{"zeta":0.431,"alpha":0.08561},{"zeta":0.434,"alpha":0.08564},{"zeta":0.437,"alpha":0.08566},{"zeta":0.44,"alpha":0.08568},{"zeta":0.443,"alpha":0.0857},{"zeta":0.446,"alpha":0.08573},{"zeta":0.449,"alpha":0.08575},{"zeta":0.452,"alpha":0.08578},{"zeta":0.455,"alpha":0.0858},{"zeta":0.458,"alpha":0.08582},{"zeta":0.461,"alpha":0.08585},{"zeta":0.464,"alpha":0.08587},{"zeta":0.468,"alpha":0.08591},{"zeta":0.471,"alpha":0.08594},{"zeta":0.474,"alpha":0.08597},{"zeta":0.477,"alpha":0.08599},{"zeta":0.48,"alpha":0.08602},{"zeta":0.483,"alpha":0.08604},{"zeta":0.486,"alpha":0.08607},{"zeta":0.489,"alpha":0.08609},{"zeta":0.492,"alpha":0.08612},{"zeta":0.495,"alpha":0.08615},{"zeta":0.498,"alpha":0.08618},{"zeta":0.501,"alpha":0.08621},{"zeta":0.504,"alpha":0.08624},{"zeta":0.507,"alpha":0.08628},{"zeta":0.51,"alpha":0.08631},{"zeta":0.513,"alpha":0.08635},{"zeta":0.516,"alpha":0.08638},{"zeta":0.519,"alpha":0.08642},
{"zeta":0.527,"alpha":0.08652},{"zeta":0.531,"alpha":0.08657},{"zeta":0.535,"alpha":0.08663},{"zeta":0.539,"alpha":0.08668},{"zeta":0.543,"alpha":0.08674},{"zeta":0.546,"alpha":0.08679},
{"zeta":0.553,"alpha":0.08689},{"zeta":0.557,"alpha":0.08695},{"zeta":0.561,"alpha":0.08702},{"zeta":0.565,"alpha":0.08708},{"zeta":0.569,"alpha":0.08714},
{"zeta":0.58,"alpha":0.08732},{"zeta":0.582,"alpha":0.08735},{"zeta":0.584,"alpha":0.08738},{"zeta":0.586,"alpha":0.08742},{"zeta":0.588,"alpha":0.08745},{"zeta":0.59,"alpha":0.08748},{"zeta":0.593,"alpha":0.08753},{"zeta":0.596,"alpha":0.08758},{"zeta":0.599,"alpha":0.08763},{"zeta":0.602,"alpha":0.08768},{"zeta":0.605,"alpha":0.08773},{"zeta":0.608,"alpha":0.08779},{"zeta":0.611,"alpha":0.08784},{"zeta":0.614,"alpha":0.08789},{"zeta":0.617,"alpha":0.08795},{"zeta":0.62,"alpha":0.088},{"zeta":0.623,"alpha":0.08806},{"zeta":0.626,"alpha":0.08812},{"zeta":0.629,"alpha":0.08818},{"zeta":0.632,"alpha":0.08824},{"zeta":0.635,"alpha":0.0883},{"zeta":0.638,"alpha":0.08836},{"zeta":0.641,"alpha":0.08842},{"zeta":0.644,"alpha":0.0885},{"zeta":0.647,"alpha":0.08858},
{"zeta":0.657,"alpha":0.08882},{"zeta":0.66,"alpha":0.0889},{"zeta":0.663,"alpha":0.08897},{"zeta":0.666,"alpha":0.08905},{"zeta":0.669,"alpha":0.08912},{"zeta":0.672,"alpha":0.0892},{"zeta":0.675,"alpha":0.08928},{"zeta":0.678,"alpha":0.08937},{"zeta":0.681,"alpha":0.08945},{"zeta":0.684,"alpha":0.08953},{"zeta":0.687,"alpha":0.08962},{"zeta":0.69,"alpha":0.0897},{"zeta":0.693,"alpha":0.08979},{"zeta":0.696,"alpha":0.08988},{"zeta":0.699,"alpha":0.08997},{"zeta":0.702,"alpha":0.09007},{"zeta":0.705,"alpha":0.09017},{"zeta":0.708,"alpha":0.09028},{"zeta":0.711,"alpha":0.09039},{"zeta":0.714,"alpha":0.0905},{"zeta":0.717,"alpha":0.09061},{"zeta":0.72,"alpha":0.09072},{"zeta":0.723,"alpha":0.09088},{"zeta":0.726,"alpha":0.09104},{"zeta":0.729,"alpha":0.0912},{"zeta":0.732,"alpha":0.09136},{"zeta":0.735,"alpha":0.09152},{"zeta":0.738,"alpha":0.09169},{"zeta":0.741,"alpha":0.09186},{"zeta":0.744,"alpha":0.09206},
{"zeta":0.753,"alpha":0.09265},{"zeta":0.756,"alpha":0.09284},{"zeta":0.759,"alpha":0.09303},{"zeta":0.761,"alpha":0.09317},
{"zeta":0.779,"alpha":0.09461},{"zeta":0.782,"alpha":0.09488},{"zeta":0.785,"alpha":0.09515},{"zeta":0.787,"alpha":0.09533},
{"zeta":0.798,"alpha":0.0966},{"zeta":0.7985,"alpha":0.09665}
]
},
"layer": [
{"data": {"name": "samples"},
 "mark": {"type": "point", "shape": "circle", "filled": false, "size": 110, "color": "#9a9a9a", "strokeWidth": 1.2, "opacity": 1},
 "encoding": {
  "x": {"field": "zeta", "type": "quantitative", "scale": {"domain": [0, 0.8], "nice": false, "zero": false},
   "axis": {"title": "Relative damping ζ", "values": [0,0.1,0.2,0.3,0.4,0.5,0.6,0.7,0.8], "format": "~g",
    "labelFont": "DejaVu Serif", "labelFontSize": 20, "labelColor": "#262626", "labelPadding": 16, "labelFlush": false, "labelOverlap": false,
    "tickColor": "#262626", "tickSize": -8, "domainColor": "#262626", "domainWidth": 1,
    "grid": true, "gridColor": "#dfdfdf", "gridWidth": 1,
    "titleFont": "DejaVu Serif", "titleFontSize": 24, "titleFontWeight": "normal", "titleColor": "#262626",
    "titleX": 425, "titleY": 63, "titleBaseline": "alphabetic", "titleAlign": "center"}},
  "y": {"field": "alpha", "type": "quantitative", "scale": {"domain": [0.07, 0.1], "nice": false, "zero": false},
   "axis": {"title": "Constant α̃₄", "values": [0.07,0.075,0.08,0.085,0.09,0.095,0.1], "format": "~g",
    "labelFont": "DejaVu Serif", "labelFontSize": 20, "labelColor": "#262626", "labelPadding": 18, "labelFlush": false, "labelOverlap": false,
    "tickColor": "#262626", "tickSize": -8, "domainColor": "#262626", "domainWidth": 1,
    "grid": true, "gridColor": "#dfdfdf", "gridWidth": 1,
    "titleFont": "DejaVu Serif", "titleFontSize": 24, "titleFontWeight": "normal", "titleColor": "#262626",
    "titleX": -115, "titleY": 288, "titleAngle": -90, "titleBaseline": "alphabetic", "titleAlign": "center"}}
 }},
{"data": {"name": "optimal"},
 "mark": {"type": "circle", "size": 125, "fill": "#b7d4f5", "stroke": "#111111", "strokeWidth": 1.5, "opacity": 1, "fillOpacity": 1},
 "encoding": {
  "x": {"field": "zeta", "type": "quantitative"},
  "y": {"field": "alpha", "type": "quantitative"}
 }}
]
}
